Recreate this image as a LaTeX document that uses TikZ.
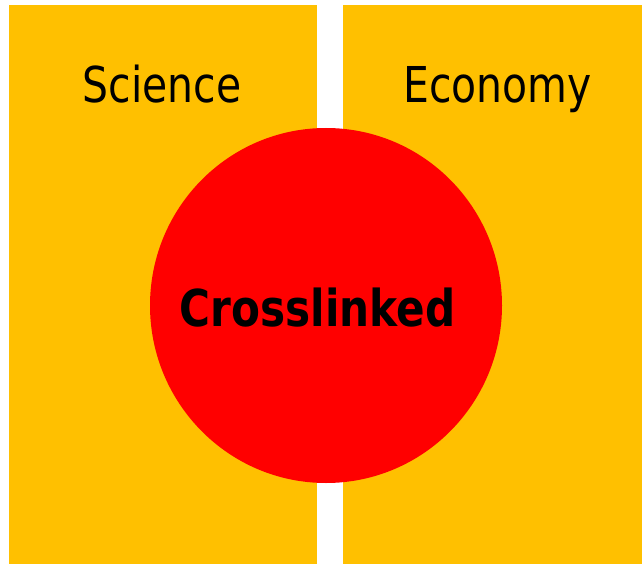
\documentclass[tikz,border=0pt]{standalone}
\usepackage{fontspec}
\setmainfont{DejaVu Sans Condensed}
\newfontfamily\boldwide{DejaVu Sans Bold}
\definecolor{panelgold}{HTML}{FFC000}
\definecolor{hubred}{HTML}{FF0000}
\begin{document}
\begin{tikzpicture}[x=1pt,y=-1pt,
  panel/.style={fill=panelgold,draw=none},
  hub/.style={fill=hubred,draw=none},
  lbl/.style={anchor=base,inner sep=0pt,font=\fontsize{49.4}{49.4}\selectfont},
  hublbl/.style={anchor=base,inner sep=0pt,font=\boldwide\fontsize{50.8}{50.8}\selectfont}]
\useasboundingbox (0,0) rectangle (642,564);
\fill[white] (0,0) rectangle (642,564);
\path[panel] (9,5) rectangle (317,564);
\path[panel] (343,5) rectangle (642,564);
\path[hub] (326,305.5) ellipse [x radius=176, y radius=177.5];
\node[lbl] (science) at (162,103) {\scalebox{0.92}[1]{Science}};
\node[lbl] (economy) at (497.5,103) {\scalebox{0.92}[1]{Economy}};
\node[hublbl] (cross) at (317.5,326) {\scalebox{0.83}[1]{Crosslinked}};
\end{tikzpicture}
\end{document}
